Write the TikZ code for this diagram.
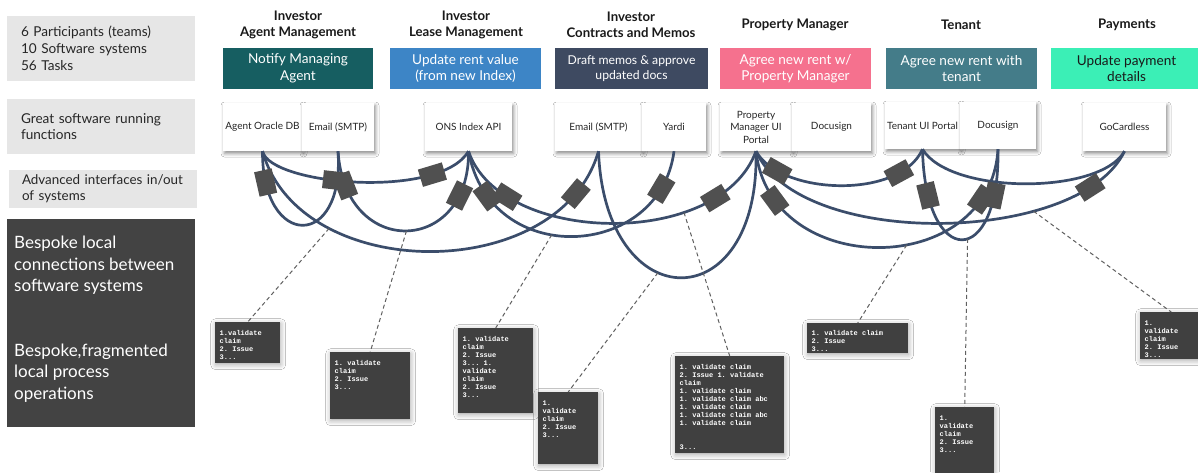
\documentclass[tikz,border=0pt]{standalone}
\usepackage{fontspec}
\setmainfont{Lato}
\setmonofont{Liberation Mono}
\usetikzlibrary{shadows.blur}

\definecolor{panelgray}{HTML}{E6E6E6}
\definecolor{darkpanel}{HTML}{434343}
\definecolor{linknavy}{HTML}{3B4D6B}
\definecolor{ifacegray}{HTML}{505050}
\definecolor{dashgray}{HTML}{606060}
\definecolor{agentteal}{HTML}{165E61}
\definecolor{leaseblue}{HTML}{3D85C6}
\definecolor{memoslate}{HTML}{3E4A61}
\definecolor{pmpink}{HTML}{F5718E}
\definecolor{tenantteal}{HTML}{447C89}
\definecolor{paymint}{HTML}{3BEFB6}
\definecolor{codebg}{HTML}{404040}
\definecolor{inktext}{HTML}{262626}

% geometry of the links between systems (used for the lines and for the interface blocks)
\newcommand\cvA{(s1.south) .. controls (270,185) and (440,200) .. (s3.south)}
\newcommand\cvB{(s1.south) .. controls (262,250) and (345,250) .. (s2.south)}
\newcommand\cvC{(s1.south) .. controls (300,285) and (560,285) .. (s4.south)}
\newcommand\cvD{(s2.south) .. controls (345,260) and (470,255) .. (s3.south)}
\newcommand\cvE{(s3.south) .. controls (490,270) and (660,260) .. (s5.south)}
\newcommand\cvF{(s3.south) .. controls (500,245) and (720,250) .. (s6.south)}
\newcommand\cvG{(s4.south) .. controls (605,320) and (760,320) .. (s6.south)}
\newcommand\cvH{(s6.south) .. controls (780,195) and (900,200) .. (s8.south)}
\newcommand\cvI{(s6.south) .. controls (800,250) and (1080,245) .. (s10.south)}
\newcommand\cvJ{(s6.south) .. controls (770,280) and (990,280) .. (s9.south)}
\newcommand\cvK{(s8.south) .. controls (925,270) and (1000,270) .. (s9.south)}
\newcommand\cvL{(s8.south) .. controls (950,195) and (1100,195) .. (s10.south)}

\begin{document}
\begin{tikzpicture}[x=1pt,y=-1pt,
  panel/.style={fill=panelgray, minimum width=188pt, inner sep=0pt, align=left,
    text=inktext, font=\fontsize{13.6}{16.8}\selectfont},
  header/.style={align=center, inner sep=0pt, text=black!90,
    font=\bfseries\fontsize{13.2}{16}\selectfont},
  task/.style={minimum width=151pt, minimum height=41pt, inner sep=0pt,
    align=center, text=white, font=\fontsize{13.6}{16.5}\selectfont},
  sysbox/.style={fill=white, minimum height=48pt, inner sep=0pt, align=center,
    text=black!85, font=\fontsize{10}{12.5}\selectfont,
    blur shadow={shadow xshift=1.5pt, shadow yshift=-2.5pt,
      shadow blur radius=3.5pt, shadow opacity=45}},
  conn/.style={draw=linknavy, line width=2.7pt},
  ifbox/.style={fill=ifacegray, minimum width=25pt, minimum height=18pt,
    inner sep=0pt, sloped},
  codebox/.style={fill=codebg, inner sep=0pt, anchor=north west,
    blur shadow={shadow xshift=0.5pt, shadow yshift=-1.5pt,
      shadow blur radius=5pt, shadow opacity=35}},
  codetext/.style={anchor=north west, inner sep=0pt, text=white, align=left,
    font=\ttfamily\bfseries\fontsize{7}{8}\selectfont},
  dashline/.style={draw=dashgray, line width=1pt, dash pattern=on 4pt off 3pt}]

\useasboundingbox (0,0) rectangle (1198,472);
\fill[white] (0,0) rectangle (1198,472);

% left-hand legend
\node[panel, minimum height=65pt, text width=160pt] (p1) at (101,48.5)
  {6 Participants (teams)\\10 Software systems\\56 Tasks};
\node[panel, minimum height=55pt, text width=160pt] (p2) at (101,126.5)
  {Great software running\\functions};
\node[panel, minimum height=38pt, text width=162pt, font=\fontsize{13.4}{16}\selectfont] (p3) at (103,189)
  {Advanced interfaces in/out\\of systems};
\node[fill=darkpanel, minimum width=188pt, minimum height=208pt, inner sep=0pt] (dk) at (101,323) {};
\node[anchor=north west, inner sep=0pt, align=left, text=white,
  font=\fontsize{17}{21.5}\selectfont] (dkt) at (14,236)
  {Bespoke local\\connections between\\software systems\\[43pt]Bespoke,fragmented\\local process\\operations};

% participant headings
\node[header] (h1) at (298,25) {Investor\\Agent Management};
\node[header] (h2) at (466,25) {Investor\\Lease Management};
\node[header] (h3) at (631,25) {Investor\\Contracts and Memos};
\node[header] (h4) at (795,25) {Property Manager};
\node[header] (h5) at (961,25) {Tenant};
\node[header] (h6) at (1127,25) {Payments};

% tasks
\node[task, fill=agentteal, minimum width=150pt] (t1) at (298,68.5) {Notify Managing\\Agent};
\node[task, fill=leaseblue] (t2) at (465.5,68.5) {Update rent value\\(from new Index)};
\node[task, fill=memoslate, minimum width=153pt, font=\fontsize{12.2}{14.5}\selectfont] (t3) at (631.5,68.5) {Draft memos \& approve\\updated docs};
\node[task, fill=pmpink] (t4) at (795.5,68.5) {Agree new rent w/\\Property Manager};
\node[task, fill=tenantteal] (t5) at (961.5,68.5) {Agree new rent with\\tenant};
\node[task, fill=paymint, text=black!90] (t6) at (1126.5,68.5) {Update payment\\details};

% software systems
\node[sysbox, minimum width=79pt] (s1) at (262.5,127) {Agent Oracle DB};
\node[sysbox, minimum width=72pt] (s2) at (338,127) {Email (SMTP)};
\node[sysbox, minimum width=87pt] (s3) at (468.5,127) {ONS Index API};
\node[sysbox, minimum width=87pt] (s4) at (598.5,127) {Email (SMTP)};
\node[sysbox, minimum width=64pt] (s5) at (674,127) {Yardi};
\node[sysbox, minimum width=72pt] (s6) at (756,127) {Property\\Manager UI\\Portal};
\node[sysbox, minimum width=79pt] (s7) at (831.5,127) {Docusign};
\node[sysbox, minimum width=75pt, minimum height=47pt] (s8) at (922.5,125.5) {Tenant UI Portal};
\node[sysbox, minimum width=76pt, minimum height=47pt] (s9) at (998,125.5) {Docusign};
\node[sysbox, minimum width=83pt] (s10) at (1124.5,127) {GoCardless};

% links between systems
\draw[conn] \cvA;
\draw[conn] \cvB;
\draw[conn] \cvC coordinate[pos=0.26] (d1);
\draw[conn] \cvD coordinate[pos=0.5] (d2);
\draw[conn] \cvE coordinate[pos=0.42] (d3);
\draw[conn] \cvF coordinate[pos=0.7] (d5);
\draw[conn] \cvG coordinate[pos=0.4] (d4);
\draw[conn] \cvH;
\draw[conn] \cvI coordinate[pos=0.7] (d8);
\draw[conn] \cvJ coordinate[pos=0.58] (d6);
\draw[conn] \cvK coordinate[pos=0.55] (d7);
\draw[conn] \cvL;

% interface blocks sitting on the links
\path \cvA node[ifbox, pos=0.42] (i2) {} node[ifbox, pos=0.78] (i4) {};
\path \cvB node[ifbox, pos=0.12] (i1) {};
\path \cvC node[ifbox, pos=0.88] (i8) {};
\path \cvD node[ifbox, pos=0.12] (i3) {} node[ifbox, pos=0.83] (i5) {};
\path \cvE node[ifbox, pos=0.15] (i6) {} node[ifbox, pos=0.87] (i9) {};
\path \cvF node[ifbox, pos=0.2] (i7) {} node[ifbox, pos=0.8] (i10) {};
\path \cvH node[ifbox, pos=0.18] (i11) {} node[ifbox, pos=0.8] (i13) {};
\path \cvI node[ifbox, pos=0.85] (i17) {};
\path \cvJ node[ifbox, pos=0.15] (i12) {} node[ifbox, pos=0.85] (i15) {};
\path \cvK node[ifbox, pos=0.15] (i14) {} node[ifbox, pos=0.85] (i16) {};

% local process scripts
\node[codebox, minimum width=65pt, minimum height=41pt] (k1) at (215,322) {};
\node[codebox, minimum width=80pt, minimum height=67pt] (k2) at (330,352) {};
\node[codebox, minimum width=75pt, minimum height=85pt] (k3) at (458,328) {};
\node[codebox, minimum width=60pt, minimum height=72pt] (k4) at (538,392) {};
\node[codebox, minimum width=109pt, minimum height=97pt] (k5) at (675,356) {};
\node[codebox, minimum width=101pt, minimum height=30pt] (k6) at (807,323) {};
\node[codebox, minimum width=59pt, minimum height=75pt] (k7) at (935,407) {};
\node[codebox, minimum width=62pt, minimum height=47pt] (k8) at (1140,312) {};

\node[codetext] (k1t) at ([xshift=4.5pt,yshift=-8.5pt]k1.north west) {1.validate\\claim\\2. Issue\\3...};
\node[codetext] (k2t) at ([xshift=4.5pt,yshift=-8.5pt]k2.north west) {1. validate\\claim\\2. Issue\\3...};
\node[codetext] (k3t) at ([xshift=4.5pt,yshift=-8.5pt]k3.north west) {1. validate\\claim\\2. Issue\\3... 1.\\validate\\claim\\2. Issue\\3...};
\node[codetext] (k4t) at ([xshift=4.5pt,yshift=-8.5pt]k4.north west) {1.\\validate\\claim\\2. Issue\\3...};
\node[codetext] (k5t) at ([xshift=4.5pt,yshift=-8.5pt]k5.north west) {1. validate claim\\2. Issue 1. validate\\claim\\1. validate claim\\1. validate claim abc\\1. validate claim\\1. validate claim abc\\1. validate claim\\[16pt]3...};
\node[codetext] (k6t) at ([xshift=4.5pt,yshift=-7.5pt]k6.north west) {1. validate claim\\2. Issue\\3...};
\node[codetext] (k7t) at ([xshift=4.5pt,yshift=-8.5pt]k7.north west) {1.\\validate\\claim\\2. Issue\\3...};
\node[codetext] (k8t) at ([xshift=4.5pt,yshift=-8.5pt]k8.north west) {1.\\validate\\claim\\2. Issue\\3...};

% pointers from links to their local scripts
\draw[dashline] (d1) -- (k1.north);
\draw[dashline] (d2) -- (k2.north);
\draw[dashline] (d3) -- (k3.north);
\draw[dashline] (d4) -- (k4.north);
\draw[dashline] (d5) -- (k5.north);
\draw[dashline] (d6) -- (k6.north);
\draw[dashline] (d7) -- (k7.north);
\draw[dashline] (d8) -- (k8.north);
\end{tikzpicture}
\end{document}
